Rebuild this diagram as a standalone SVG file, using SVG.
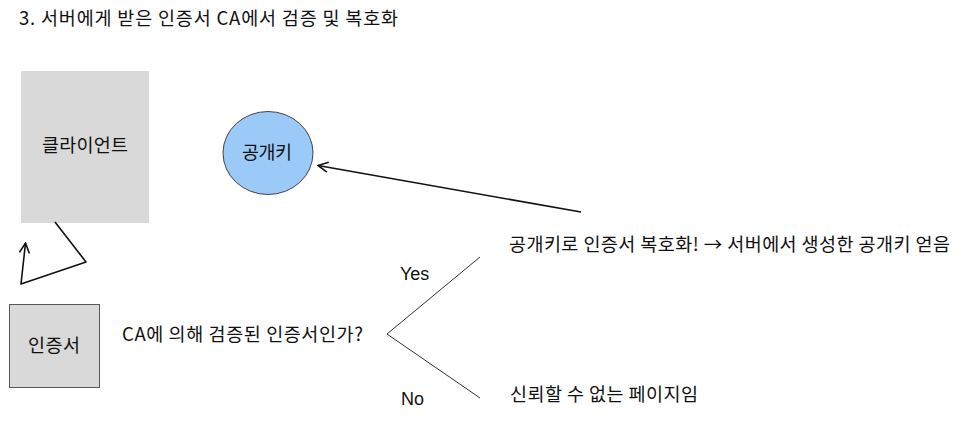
<svg xmlns="http://www.w3.org/2000/svg" width="966" height="429" viewBox="0 0 966 429">
<style>
text{font-family:"Noto Sans CJK KR","Liberation Sans",sans-serif;font-size:18.5px;fill:#111}
.lat{font-family:"Liberation Sans","Noto Sans CJK KR",sans-serif;font-size:18px}
.c{text-anchor:middle}
.conn{fill:none;stroke:#111;stroke-width:1.6;stroke-linejoin:round}
.thin{fill:none;stroke:#333;stroke-width:1}
</style>
<defs>
<marker id="open" viewBox="0 0 12 12" refX="11" refY="6" markerWidth="12" markerHeight="12" markerUnits="userSpaceOnUse" orient="auto">
<path d="M1,1 L11,6 L1,11" fill="none" stroke="#111" stroke-width="1.6"/>
</marker>
</defs>
<rect width="966" height="429" fill="#fff"/>
<text id="title" x="19" y="25" textLength="379" lengthAdjust="spacing">3. 서버에게 받은 인증서 CA에서 검증 및 복호화</text>
<g id="client">
<rect x="21" y="71" width="128" height="152" fill="#d9d9d9"/>
<text class="c" x="85" y="152" textLength="86" lengthAdjust="spacing">클라이언트</text>
</g>
<g id="pubkey">
<ellipse cx="268" cy="153" rx="45" ry="41.5" fill="#9ccaf8" stroke="#444" stroke-width="1"/>
<text class="c" x="267" y="159" textLength="50" lengthAdjust="spacing">공개키</text>
</g>
<g id="cert">
<rect x="9.5" y="304.5" width="90" height="83" fill="#d9d9d9" stroke="#595959" stroke-width="1"/>
<text class="c" x="54" y="352" textLength="52" lengthAdjust="spacing">인증서</text>
</g>
<g id="question">
<text x="122" y="341" textLength="241" lengthAdjust="spacing">CA에 의해 검증된 인증서인가?</text>
</g>
<g id="yes-result">
<text x="509" y="251" textLength="441" lengthAdjust="spacing">공개키로 인증서 복호화! → 서버에서 생성한 공개키 얻음</text>
</g>
<g id="no-result">
<text x="510" y="401" textLength="188" lengthAdjust="spacing">신뢰할 수 없는 페이지임</text>
</g>
<g id="connectors">
<polyline class="conn" points="55,222 86,262 21,284 25.5,243" marker-end="url(#open)"/>
<line class="conn" x1="581" y1="212" x2="318" y2="165.5" marker-end="url(#open)"/>
<polyline class="thin" points="480,257 387,334 480,398"/>
<text class="lat" x="400" y="280">Yes</text>
<text class="lat" x="401" y="405">No</text>
</g>
</svg>
